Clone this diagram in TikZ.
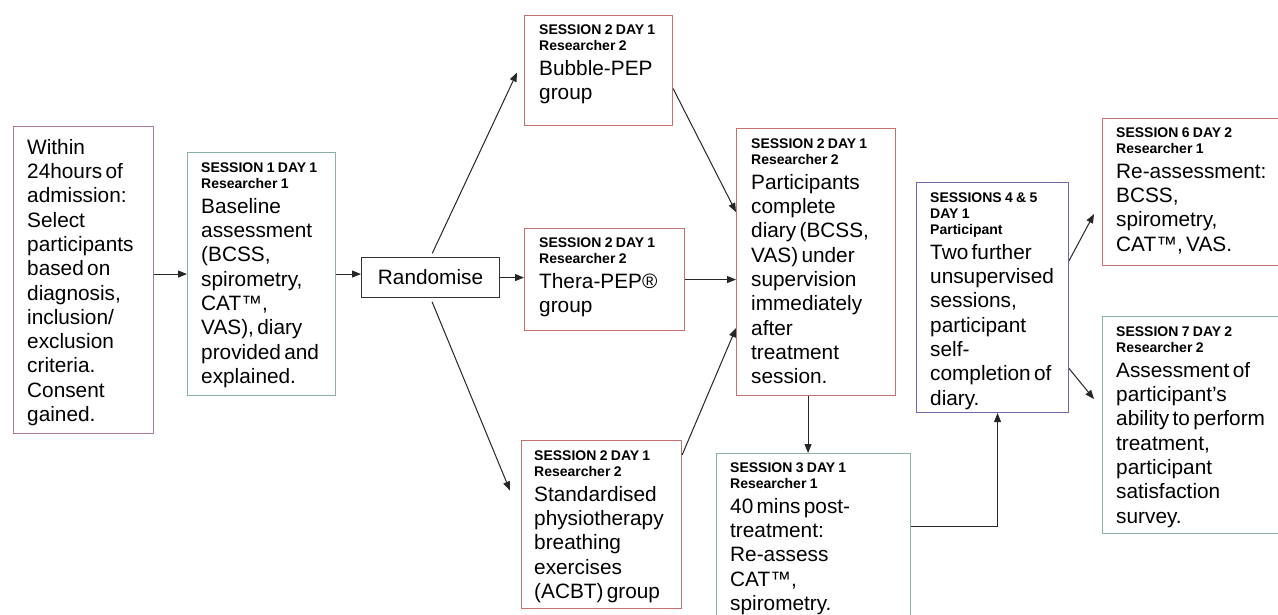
\documentclass[tikz,border=0pt]{standalone}
\usepackage{fontspec}
\setmainfont{Liberation Sans}
\usetikzlibrary{arrows.meta}

\definecolor{boxred}{RGB}{196,112,112}
\definecolor{boxteal}{RGB}{140,178,168}
\definecolor{boxmauve}{RGB}{168,120,160}
\definecolor{boxviolet}{RGB}{112,104,172}

\newcommand{\hdfont}{\fontsize{14}{16}\selectfont\bfseries}
\newcommand{\bdfont}{\fontsize{20.8}{24.3}\selectfont}

\tikzset{
  pbox/.style={draw, line width=1.1pt, inner sep=0pt, anchor=north west},
  ptext/.style={anchor=north west, inner sep=0pt, text width=220pt, align=left},
  arr/.style={-{Triangle[length=9pt,width=7pt]}, line width=1pt, draw=black!85},
}

\begin{document}
\begin{tikzpicture}[x=1pt,y=-1pt]
\clip (0,0) rectangle (1278,614);
\fill[white] (0,0) rectangle (1278,614);

%Shape: Rectangle [selection]
\node[pbox, draw=boxmauve, minimum width=140pt, minimum height=307pt] (sel) at (13,126) {};
% Text Node
\node[ptext] (selt) at ([shift={(14,13)}]sel.north west) {{\bdfont Within\\24hours of\\admission:\\Select\\participants\\based on\\diagnosis,\\inclusion/\\exclusion\\criteria.\\Consent\\gained.\par}};

%Shape: Rectangle [session 1]
\node[pbox, draw=boxteal, minimum width=148pt, minimum height=243pt] (base) at (187,152) {};
% Text Node
\node[ptext] (baset) at ([shift={(14,11)}]base.north west) {{\hdfont SESSION 1 DAY 1\\Researcher 1\par}{\bdfont Baseline\\assessment\\(BCSS,\\spirometry,\\CAT™,\\VAS), diary\\provided and\\explained.\par}};

%Shape: Rectangle [randomise]
\node[pbox, draw=black!80, minimum width=138pt, minimum height=40pt] (rand) at (361,257) {\bdfont Randomise};

%Shape: Rectangle [bubble]
\node[pbox, draw=boxred, minimum width=148pt, minimum height=110pt] (bub) at (524,15) {};
% Text Node
\node[ptext] (bubt) at ([shift={(15,10)}]bub.north west) {{\hdfont SESSION 2 DAY 1\\Researcher 2\par}{\bdfont Bubble-PEP\\group\par}};

%Shape: Rectangle [thera]
\node[pbox, draw=boxred, minimum width=160pt, minimum height=102pt] (thera) at (524,228) {};
% Text Node
\node[ptext] (therat) at ([shift={(15,10)}]thera.north west) {{\hdfont SESSION 2 DAY 1\\Researcher 2\par}{\bdfont Thera-PEP®\\group\par}};

%Shape: Rectangle [acbt]
\node[pbox, draw=boxred, minimum width=160pt, minimum height=168pt] (acbt) at (521,440) {};
% Text Node
\node[ptext] (acbtt) at ([shift={(13,11)}]acbt.north west) {{\hdfont SESSION 2 DAY 1\\Researcher 2\par}{\bdfont Standardised\\physiotherapy\\breathing\\exercises\\(ACBT) group\par}};

%Shape: Rectangle [diary]
\node[pbox, draw=boxred, minimum width=159pt, minimum height=267pt] (mid) at (736,128) {};
% Text Node
\node[ptext] (midt) at ([shift={(15,11)}]mid.north west) {{\hdfont SESSION 2 DAY 1\\Researcher 2\par}{\bdfont Participants\\complete\\diary (BCSS,\\VAS) under\\supervision\\immediately\\after\\treatment\\session.\par}};

%Shape: Rectangle [session 3]
\node[pbox, draw=boxteal, minimum width=194pt, minimum height=171pt] (s3) at (716,453) {};
% Text Node
\node[ptext] (s3t) at ([shift={(14,10)}]s3.north west) {{\hdfont SESSION 3 DAY 1\\Researcher 1\par}{\bdfont 40 mins post-\\treatment:\\Re-assess\\CAT™,\\spirometry.\par}};

%Shape: Rectangle [sessions 4 & 5]
\node[pbox, draw=boxviolet, minimum width=152pt, minimum height=230pt] (s45) at (916,182) {};
% Text Node
\node[ptext] (s45t) at ([shift={(14,11)}]s45.north west) {{\hdfont SESSIONS 4 \& 5\\DAY 1\\Participant\par}{\bdfont Two further\\unsupervised\\sessions,\\participant\\self-\\completion of\\diary.\par}};

%Shape: Rectangle [session 6]
\node[pbox, draw=boxred, minimum width=188pt, minimum height=147pt] (s6) at (1102,118) {};
% Text Node
\node[ptext] (s6t) at ([shift={(14,10)}]s6.north west) {{\hdfont SESSION 6 DAY 2\\Researcher 1\par}{\bdfont Re-assessment:\\BCSS,\\spirometry,\\CAT™, VAS.\par}};

%Shape: Rectangle [session 7]
\node[pbox, draw=boxteal, minimum width=188pt, minimum height=217pt] (s7) at (1102,316) {};
% Text Node
\node[ptext] (s7t) at ([shift={(14,11)}]s7.north west) {{\hdfont SESSION 7 DAY 2\\Researcher 2\par}{\bdfont Assessment of\\participant’s\\ability to perform\\treatment,\\participant\\satisfaction\\survey.\par}};

%Straight Lines
\draw[arr] (sel.east |- base.west) -- (base.west);
\draw[arr] (base.east) -- (base.east -| rand.west);
\draw[arr] (rand.east) -- (rand.east -| thera.west);
\draw[arr, shorten <=4pt] (rand.north) -- ([shift={(-7pt,-2pt)}]bub.west);
\draw[arr, shorten <=4pt] (rand.south) -- ([shift={(-11pt,34pt)}]acbt.west);
\draw[arr] ([yshift=-18pt]bub.east) -- ([yshift=50pt]mid.west);
\draw[arr] (thera.east) -- (thera.east -| mid.west);
\draw[arr] ([yshift=-15pt]acbt.north east) -- ([yshift=-66pt]mid.west);
\draw[arr] ([xshift=-8pt]mid.south) -- ([xshift=-8pt]mid.south |- s3.north);
\draw[arr] ([yshift=13pt]s3.east) -| ([xshift=5pt]s45.south);
\draw[arr] ([yshift=37pt]s45.east) -- ([shift={(-8pt,-22pt)}]s6.west);
\draw[arr] ([yshift=-71pt]s45.east) -- ([shift={(-8pt,26pt)}]s7.west);

\end{tikzpicture}
\end{document}
